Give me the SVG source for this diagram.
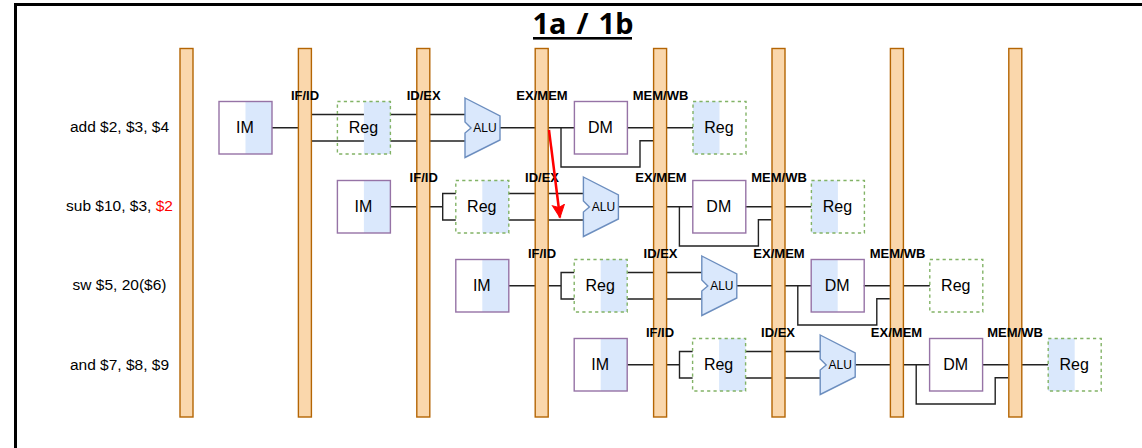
<svg xmlns="http://www.w3.org/2000/svg" width="1142" height="448" viewBox="0 0 1142 448">
<defs>
<marker id="redhead" markerUnits="userSpaceOnUse" markerWidth="16" markerHeight="16" refX="13" refY="7" orient="auto"><path d="M0.500 1L13 7L0.500 13L3 7Z" fill="#ff0000" stroke="#ff0000"/></marker>
</defs>
<style>
text{font-family:"Liberation Sans",Arial,sans-serif;fill:#000}
.bar{fill:#fad7ac;stroke:#b46504;stroke-width:1.4}
.half{fill:#dae8fc}
.im{fill:none;stroke:#9673a6;stroke-width:1.4}
.reg{fill:none;stroke:#82b366;stroke-width:1.4;stroke-dasharray:3.2 3.2}
.alu{fill:#dae8fc;stroke:#6c8ebf;stroke-width:1.4}
.t{font-size:16px;text-anchor:middle}
.a{font-size:12px;text-anchor:middle}
.ins{font-size:15.500px;text-anchor:middle}
.st{font-size:13px;font-weight:bold;text-anchor:middle}
.w{fill:none;stroke:#222;stroke-width:1.4}
</style>
<rect width="1142" height="448" fill="#ffffff"/>
<path id="frame" d="M15.500 448V4.500H1142" fill="none" stroke="#000" stroke-width="3"/>
<g id="title"><text x="583" y="34" font-size="29" font-weight="bold" text-anchor="middle" word-spacing="2.500" style="font-family:'Noto Sans',sans-serif">1a / 1b</text><rect x="533" y="37" width="99" height="2.600" fill="#000"/></g>
<g id="connectors">
<g id="wires-1"><path class="w" d="M272 127.700H298M311 114.500H465M311 141H465M500 127.700H574.500M561 127.700V167H640V140.700H653M627 127.700H693"/></g>
<g id="wires-2" transform="translate(118.400 79)"><path class="w" d="M272 127.700H324.300M337.400 114.500H324.300V141H337.400M390 114.500H465M390 141H465M500 127.700H574.500M561 127.700V167H640V140.700H653M627 127.700H693"/></g>
<g id="wires-3" transform="translate(236.800 158)"><path class="w" d="M272 127.700H324.300M337.400 114.500H324.300V141H337.400M390 114.500H465M390 141H465M500 127.700H574.500M561 127.700V167H640V140.700H653M627 127.700H693"/></g>
<g id="wires-4" transform="translate(355.200 237)"><path class="w" d="M272 127.700H324.300M337.400 114.500H324.300V141H337.400M390 114.500H465M390 141H465M500 127.700H574.500M561 127.700V167H640V140.700H653M627 127.700H693"/></g>
</g>
<g id="bars">
<rect id="bar1" class="bar" x="180" y="48.500" width="13" height="368.500"/>
<rect id="bar2" class="bar" x="298.400" y="48.500" width="13" height="368.500"/>
<rect id="bar3" class="bar" x="416.800" y="48.500" width="13" height="368.500"/>
<rect id="bar4" class="bar" x="535.200" y="48.500" width="13" height="368.500"/>
<rect id="bar5" class="bar" x="653.600" y="48.500" width="13" height="368.500"/>
<rect id="bar6" class="bar" x="772" y="48.500" width="13" height="368.500"/>
<rect id="bar7" class="bar" x="890.400" y="48.500" width="13" height="368.500"/>
<rect id="bar8" class="bar" x="1008.800" y="48.500" width="13" height="368.500"/>
</g>
<g id="instructions">
<text class="ins" x="119.500" y="131.500">add $2, $3, $4</text>
<text class="ins" x="119.500" y="211">sub $10, $3, <tspan fill="#ff0000">$2</tspan></text>
<text class="ins" x="119.500" y="290">sw $5, 20($6)</text>
<text class="ins" x="119.500" y="369.500">and $7, $8, $9</text>
</g>
<g id="im1" transform="translate(219 101.500)"><rect class="half" x="26.500" width="26.500" height="52.500"/><rect class="im" width="53" height="52.500"/><text class="t" x="26" y="31.500">IM</text></g>
<g id="reg1a" transform="translate(337.400 101.500)"><rect class="half" x="26.500" width="26.500" height="52.500"/><rect class="reg" width="53" height="52.500"/><text class="t" x="26" y="31.500">Reg</text></g>
<g id="alu1" transform="translate(465 98)"><path class="alu" d="M0 0L35 18V42L0 59.500V35L6 30L0 24Z"/><text class="a" x="20" y="34">ALU</text></g>
<g id="dm1" transform="translate(574.400 101.500)"><rect class="im" width="53" height="52.500"/><text class="t" x="26" y="31.500">DM</text></g>
<g id="reg1b" transform="translate(693 101.500)"><rect class="half" width="26.500" height="52.500"/><rect class="reg" width="53" height="52.500"/><text class="t" x="26" y="31.500">Reg</text></g>
<g id="im2" transform="translate(337.400 180.500)"><rect class="half" x="26.500" width="26.500" height="52.500"/><rect class="im" width="53" height="52.500"/><text class="t" x="26" y="31.500">IM</text></g>
<g id="reg2a" transform="translate(455.800 180.500)"><rect class="half" x="26.500" width="26.500" height="52.500"/><rect class="reg" width="53" height="52.500"/><text class="t" x="26" y="31.500">Reg</text></g>
<g id="alu2" transform="translate(583.400 177)"><path class="alu" d="M0 0L35 18V42L0 59.500V35L6 30L0 24Z"/><text class="a" x="20" y="34">ALU</text></g>
<g id="dm2" transform="translate(692.800 180.500)"><rect class="im" width="53" height="52.500"/><text class="t" x="26" y="31.500">DM</text></g>
<g id="reg2b" transform="translate(811.400 180.500)"><rect class="half" width="26.500" height="52.500"/><rect class="reg" width="53" height="52.500"/><text class="t" x="26" y="31.500">Reg</text></g>
<g id="im3" transform="translate(455.800 259.500)"><rect class="half" x="26.500" width="26.500" height="52.500"/><rect class="im" width="53" height="52.500"/><text class="t" x="26" y="31.500">IM</text></g>
<g id="reg3a" transform="translate(574.200 259.500)"><rect class="half" x="26.500" width="26.500" height="52.500"/><rect class="reg" width="53" height="52.500"/><text class="t" x="26" y="31.500">Reg</text></g>
<g id="alu3" transform="translate(701.800 256)"><path class="alu" d="M0 0L35 18V42L0 59.500V35L6 30L0 24Z"/><text class="a" x="20" y="34">ALU</text></g>
<g id="dm3" transform="translate(811.200 259.500)"><rect class="half" width="26.500" height="52.500"/><rect class="im" width="53" height="52.500"/><text class="t" x="26" y="31.500">DM</text></g>
<g id="reg3b" transform="translate(929.800 259.500)"><rect class="reg" width="53" height="52.500"/><text class="t" x="26" y="31.500">Reg</text></g>
<g id="im4" transform="translate(574.200 338.500)"><rect class="half" x="26.500" width="26.500" height="52.500"/><rect class="im" width="53" height="52.500"/><text class="t" x="26" y="31.500">IM</text></g>
<g id="reg4a" transform="translate(692.600 338.500)"><rect class="half" x="26.500" width="26.500" height="52.500"/><rect class="reg" width="53" height="52.500"/><text class="t" x="26" y="31.500">Reg</text></g>
<g id="alu4" transform="translate(820.200 335)"><path class="alu" d="M0 0L35 18V42L0 59.500V35L6 30L0 24Z"/><text class="a" x="20" y="34">ALU</text></g>
<g id="dm4" transform="translate(929.600 338.500)"><rect class="im" width="53" height="52.500"/><text class="t" x="26" y="31.500">DM</text></g>
<g id="reg4b" transform="translate(1048.200 338.500)"><rect class="half" width="26.500" height="52.500"/><rect class="reg" width="53" height="52.500"/><text class="t" x="26" y="31.500">Reg</text></g>
<g id="stage-labels">
<text class="st" x="305" y="99.500">IF/ID</text><text class="st" x="423.700" y="99.500">ID/EX</text><text class="st" x="542" y="99.500">EX/MEM</text><text class="st" x="660.500" y="99.500">MEM/WB</text>
<text class="st" x="423.700" y="181.500">IF/ID</text><text class="st" x="542" y="181.500">ID/EX</text><text class="st" x="661" y="181.500">EX/MEM</text><text class="st" x="779" y="181.500">MEM/WB</text>
<text class="st" x="542" y="258">IF/ID</text><text class="st" x="660.500" y="258">ID/EX</text><text class="st" x="779" y="258">EX/MEM</text><text class="st" x="897.500" y="258">MEM/WB</text>
<text class="st" x="660" y="337">IF/ID</text><text class="st" x="778" y="337">ID/EX</text><text class="st" x="896.500" y="337">EX/MEM</text><text class="st" x="1015" y="337">MEM/WB</text>
</g>
<g id="forward-arrow"><line x1="549" y1="130" x2="560" y2="217.500" stroke="#ff0000" stroke-width="2.500" marker-end="url(#redhead)"/></g>
</svg>
